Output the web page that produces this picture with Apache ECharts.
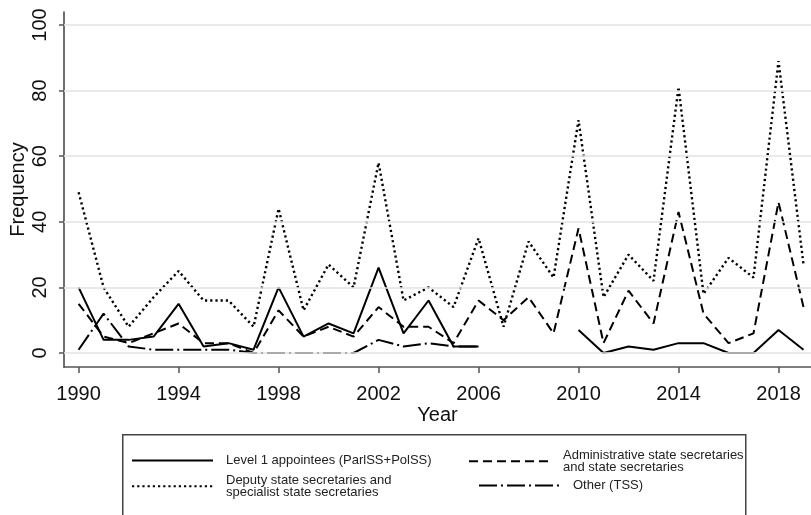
<!DOCTYPE html>
<html><head><meta charset="utf-8">
<script src="https://cdn.jsdelivr.net/npm/echarts@6/dist/echarts.min.js"></script>
<style>html,body{margin:0;padding:0;background:#fff}#c{width:811px;height:515px}</style>
</head><body><div id="c"></div>
<script>
const years = [1990,1991,1992,1993,1994,1995,1996,1997,1998,1999,2000,2001,2002,2003,2004,2005,2006,2007,2008,2009,2010,2011,2012,2013,2014,2015,2016,2017,2018,2019];
const level1 = [20,4,4,5,15,2,3,1,20,5,9,6,26,6,16,2,2,null,null,null,7,0,2,1,3,3,0,0,7,1];
const admin  = [15,5,3,6,9,3,3,0,13,5,8,5,14,8,8,3,16,10,17,6,38,3,19,9,43,12,3,6,46,14];
const deputy = [49,20,8,17,25,16,16,8,44,13,27,20,58,16,20,14,35,8,34,23,71,17,30,22,81,18,29,23,89,27];
const other  = [1,12,2,1,1,1,1,0,0,0,0,0,4,2,3,2,2,null,null,null,null,null,null,null,null,null,null,null,null,null];
const yTicks = [0,20,40,60,80,100];
const xTicks = [1990,1994,1998,2002,2006,2010,2014,2018];
const seriesNames = ['Level 1 appointees (ParlSS+PolSS)','Administrative state secretaries and state secretaries','Deputy state secretaries and specialist state secretaries','Other (TSS)'];
const legendLabels = {
  'Level 1 appointees (ParlSS+PolSS)':'Level 1 appointees (ParlSS+PolSS)',
  'Administrative state secretaries and state secretaries':'Administrative state secretaries\nand state secretaries',
  'Deputy state secretaries and specialist state secretaries':'Deputy state secretaries and\nspecialist state secretaries',
  'Other (TSS)':'Other (TSS)'
};
const FONT = "'Liberation Sans',Arial,sans-serif";
const AX = '#555';
function pairs(v){ return years.map((y,i)=>[y, v[i]]); }
function mkLine(name, vals, type, width){
  return {name, type:'line', data:pairs(vals), symbol:'none', z:3, animation:false,
    lineStyle:{color:'#000', width, type, cap:'butt'}, itemStyle:{color:'#000'}};
}
const legendCommon = {orient:'horizontal', padding:0, itemWidth:81, itemHeight:14,
  formatter:n=>legendLabels[n], selectedMode:false,
  itemStyle:{opacity:0},
  textStyle:{fontFamily:FONT, fontSize:13, lineHeight:11.5, color:'#222', padding:[0,0,0,8]}};
const chart = echarts.init(document.getElementById('c'));
chart.setOption({
  animation:false,
  backgroundColor:'#fff',
  grid:{left:64, right:0, top:12, bottom:148, containLabel:false, outerBoundsMode:'none'},
  xAxis:{type:'value', min:1989.416, max:2019.3,
    name:'Year', nameLocation:'middle', nameGap:38, nameMoveOverlap:false,
    nameTextStyle:{fontFamily:FONT, fontSize:20, color:'#111'},
    axisLine:{show:true, onZero:false, lineStyle:{color:AX, width:1.7}},
    axisTick:{show:true, length:6, customValues:xTicks, lineStyle:{color:AX, width:1.5}},
    axisLabel:{customValues:xTicks, margin:17, fontFamily:FONT, fontSize:20, color:'#111', formatter:v=>String(v)},
    splitLine:{show:false}},
  yAxis:{type:'value', min:-4.27, max:103.96,
    name:'Frequency', nameLocation:'middle', nameGap:36, nameRotate:90, nameMoveOverlap:false,
    nameTextStyle:{fontFamily:FONT, fontSize:20, color:'#111'},
    axisLine:{show:true, onZero:false, lineStyle:{color:AX, width:1.7}},
    axisTick:{show:true, length:5, customValues:yTicks, lineStyle:{color:AX, width:1.5}},
    axisLabel:{customValues:yTicks, rotate:90, margin:14, fontFamily:FONT, fontSize:20, color:'#111', formatter:v=>String(v)},
    splitLine:{show:false}},
  legend:[
    Object.assign({data:[seriesNames[0]], left:131, top:454}, legendCommon),
    Object.assign({data:[seriesNames[2]], left:131, top:474}, legendCommon),
    Object.assign({data:[seriesNames[1]], left:468, top:449}, legendCommon),
    Object.assign({data:[seriesNames[3]], left:478, top:479}, legendCommon)
  ],
  graphic:[{type:'rect', left:122, top:434, z:0, silent:true,
    shape:{width:623, height:100}, style:{fill:'rgba(0,0,0,0)', stroke:'#444', lineWidth:1.5}}],
  series:[
    {name:'_grid', type:'line', data:[], z:1, silent:true,
      markLine:{silent:true, symbol:'none', animation:false, label:{show:false},
        lineStyle:{color:'#e3e3e3', width:1.5, type:'solid'},
        data:yTicks.map(v=>({yAxis:v}))}},
    mkLine(seriesNames[0], level1, 'solid', 2),
    mkLine(seriesNames[1], admin, [9,5], 2),
    mkLine(seriesNames[2], deputy, [2.2,3], 2.4),
    mkLine(seriesNames[3], other, [18,4,2,4], 2)
  ]
});
</script></body></html>
